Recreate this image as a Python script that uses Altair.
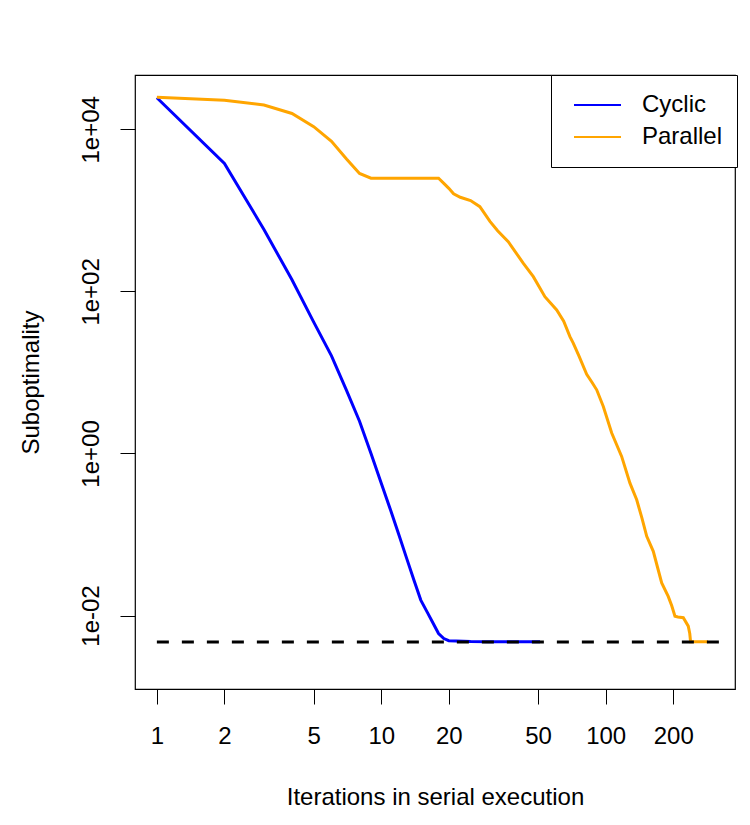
import altair as alt
import pandas as pd

# ---- data ----
cyclic_iter = [1, 2, 3, 4, 5, 6, 7, 8, 9, 10, 11, 12, 13, 14, 15, 16, 17, 18, 19, 20, 25, 30, 40, 51]
cyclic_val = [24500, 3800, 581, 139, 41.7, 16, 6.0, 2.5, 1.0, 0.43, 0.2, 0.098, 0.05, 0.027,
              0.0155, 0.0111, 0.0081, 0.006, 0.0052, 0.0049, 0.00478, 0.00476, 0.00475, 0.00475]

parallel_iter = [1, 2, 3, 4, 5, 6, 7, 8, 9, 18, 19, 20, 21, 22.5, 25, 27.5, 30.5, 33, 36.8,
                 42.9, 47.6, 53.6, 60.5, 65, 69.3, 71.7, 76, 82.3, 87, 91.2, 97.6, 106.4,
                 117.8, 128.3, 137.5, 145, 152.4, 163, 170, 177.7, 190, 197, 203.6, 210,
                 221.8, 233.4, 237, 239, 286]
parallel_val = [24800, 22900, 19900, 15700, 10800, 7100, 4300, 2850, 2490, 2490, 2150, 1870,
                1600, 1450, 1320, 1110, 730, 560, 411, 223, 152, 86, 59, 43, 27.7, 23, 16,
                9.5, 7.5, 6.1, 3.8, 1.79, 0.92, 0.43, 0.268, 0.16, 0.095, 0.062, 0.04,
                0.0252, 0.0172, 0.0132, 0.0098, 0.0096, 0.0094, 0.0074, 0.006, 0.00475, 0.00475]

optimum_iter = [1, 325]
optimum_val = [0.0047, 0.0047]

series_names = ["Cyclic", "Parallel"]
series_colors = ["#0000FF", "#FFA500"]

x_ticks = [1, 2, 5, 10, 20, 50, 100, 200]
y_ticks = [0.01, 1, 100, 10000]
y_tick_labels = ["1e-02", "1e+00", "1e+02", "1e+04"]

x_domain = [0.799, 377]
y_domain = [0.00124, 46800]

FONT = "Liberation Sans"

# ---- tables ----
curves = pd.concat([
    pd.DataFrame({"iter": cyclic_iter, "val": cyclic_val, "series": series_names[0]}),
    pd.DataFrame({"iter": parallel_iter, "val": parallel_val, "series": series_names[1]}),
], ignore_index=True)
optimum = pd.DataFrame({"iter": optimum_iter, "val": optimum_val})

# label expression for y ticks
expr = "'" + y_tick_labels[-1] + "'"
for v, lab in reversed(list(zip(y_ticks[:-1], y_tick_labels[:-1]))):
    expr = f"datum.value < {v * 3.1623} ? '{lab}' : " + expr

x_scale = alt.Scale(type="log", domain=x_domain, nice=False, zero=False)
y_scale = alt.Scale(type="log", domain=y_domain, nice=False, zero=False)

x_axis = alt.Axis(values=x_ticks, format="d", labelBaseline="alphabetic", labelPadding=39,
                  labelFlush=False, labelOverlap=False,
                  title="Iterations in serial execution", titleX=300, titleY=115,
                  titleBaseline="alphabetic", titleAlign="center")
y_axis = alt.Axis(values=y_ticks, labelExpr=expr, labelAngle=270, labelAlign="center",
                  labelBaseline="alphabetic", labelPadding=22, labelFlush=False,
                  labelOverlap=False, title="Suboptimality", titleAngle=270,
                  titleAlign="center", titleBaseline="alphabetic", titleX=-97, titleY=307)

lines = alt.Chart(curves).mark_line(strokeWidth=3, clip=True).encode(
    x=alt.X("iter:Q", scale=x_scale, axis=x_axis),
    y=alt.Y("val:Q", scale=y_scale, axis=y_axis),
    color=alt.Color("series:N",
                    scale=alt.Scale(domain=series_names, range=series_colors),
                    legend=alt.Legend(orient="none", legendX=416, legendY=0, title=None,
                                      strokeColor="black", fillColor="white", padding=14,
                                      symbolType="stroke", symbolSize=2209,
                                      symbolStrokeWidth=2, symbolOffset=8,
                                      clipHeight=32, rowPadding=-1, labelOffset=20,
                                      labelFontSize=24, labelFont=FONT,
                                      labelColor="black", cornerRadius=0)),
)

opt_line = alt.Chart(optimum).mark_line(strokeWidth=3, color="black",
                                        strokeDash=[12, 13], clip=True).encode(
    x=alt.X("iter:Q", scale=x_scale, axis=x_axis),
    y=alt.Y("val:Q", scale=y_scale, axis=y_axis),
)

chart = alt.layer(lines, opt_line).properties(
    width=600, height=614,
    autosize=alt.AutoSizeParams(type="none"),
    padding={"left": 135, "top": 75, "right": 15, "bottom": 136},
).configure(
    background="white"
).configure_view(
    stroke="black", strokeWidth=1.2, fill="white"
).configure_axis(
    domain=False, grid=False, tickColor="black", tickWidth=1, tickSize=15,
    labelColor="black", labelFont=FONT, labelFontSize=24,
    titleColor="black", titleFont=FONT, titleFontSize=24, titleFontWeight="normal",
)

chart.save("out.html", embed_options={"renderer": "svg", "actions": False})
